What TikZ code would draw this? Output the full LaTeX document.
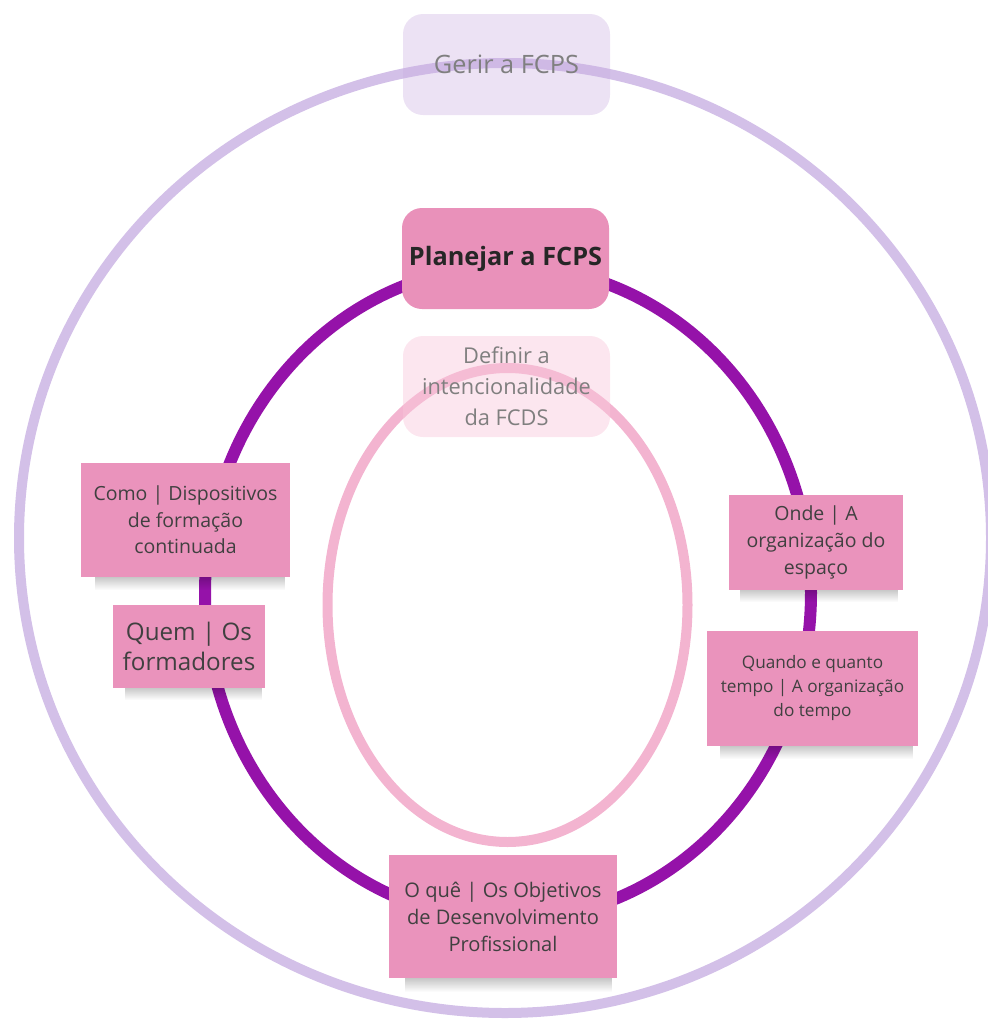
\documentclass[tikz,border=0pt]{standalone}
\usepackage{fontspec}
\setmainfont{Open Sans}
\usetikzlibrary{fadings}
\definecolor{lavline}{HTML}{D3C0E8}
\definecolor{lavfill}{HTML}{C9ADE0}
\definecolor{purpline}{HTML}{9512A9}
\definecolor{pinkline}{HTML}{F3B4D0}
\definecolor{pinkfill}{HTML}{F9C7DB}
\definecolor{sticky}{HTML}{EA93BC}
\definecolor{planfill}{HTML}{E991BA}
\definecolor{stickytext}{HTML}{404040}
\definecolor{greytext}{HTML}{7F7F7F}
\tikzset{
  roundbox/.style={rounded corners=20pt, inner sep=0pt, align=center},
  stickynote/.style={fill=sticky, inner sep=0pt, align=center, text=stickytext},
  noteshadow/.style={fill=black, opacity=0.3, path fading=south},
}
\begin{document}
\begin{tikzpicture}[x=1pt,y=-1pt]
\useasboundingbox (0,0) rectangle (988,1021);
% rings
\draw[lavline, line width=10pt] (505,538) ellipse [x radius=486pt, y radius=475pt];
\draw[purpline, line width=12pt] (508,593) ellipse [x radius=303pt, y radius=327pt];
\draw[pinkline, line width=10pt] (507.5,605) ellipse [x radius=180pt, y radius=237pt];
% top boxes
\node[roundbox, fill=lavfill, fill opacity=0.35, text opacity=1, minimum width=207pt, minimum height=101pt, text=greytext, font=\fontsize{25.3}{30}\selectfont] (gerir) at (506.5,64.5) {Gerir a FCPS};
\node[roundbox, fill=planfill, minimum width=207pt, minimum height=101pt, text=black!85, font=\bfseries\fontsize{25.3}{30}\selectfont] (planejar) at (505.5,258.5) {Planejar a FCPS};
\node[roundbox, fill=pinkfill, fill opacity=0.45, text opacity=1, minimum width=207pt, minimum height=101pt, text=greytext, font=\fontsize{21.8}{31}\selectfont] (definir) at (506.5,386.5) {Definir a\\intencionalidade\\da FCDS};
% shadows
\fill[noteshadow] (95,572) rectangle (285,590);
\fill[noteshadow] (125,683) rectangle (262,700);
\fill[noteshadow] (740,585) rectangle (898,602);
\fill[noteshadow] (720,741) rectangle (913,759);
\fill[noteshadow] (405,973) rectangle (612,992);
% sticky notes
\node[stickynote, minimum width=209pt, minimum height=114pt, font=\fontsize{19.5}{26.5}\selectfont] (como) at (185.5,520) {Como | Dispositivos\\de formação\\continuada};
\node[stickynote, minimum width=152pt, minimum height=83pt, font=\fontsize{24.2}{30}\selectfont] (quem) at (189,646.5) {Quem | Os\\formadores};
\node[stickynote, minimum width=174pt, minimum height=95pt, font=\fontsize{19.5}{27}\selectfont] (onde) at (816,542.5) {Onde | A\\organização do\\espaço};
\node[stickynote, minimum width=211pt, minimum height=115pt, font=\fontsize{17.2}{24}\selectfont] (quando) at (812.5,688.5) {Quando e quanto\\tempo | A organização\\do tempo};
\node[stickynote, minimum width=228pt, minimum height=123pt, font=\fontsize{20.1}{27}\selectfont] (oque) at (503,916.5) {O quê | Os Objetivos\\de Desenvolvimento\\Profissional};
\end{tikzpicture}
\end{document}
